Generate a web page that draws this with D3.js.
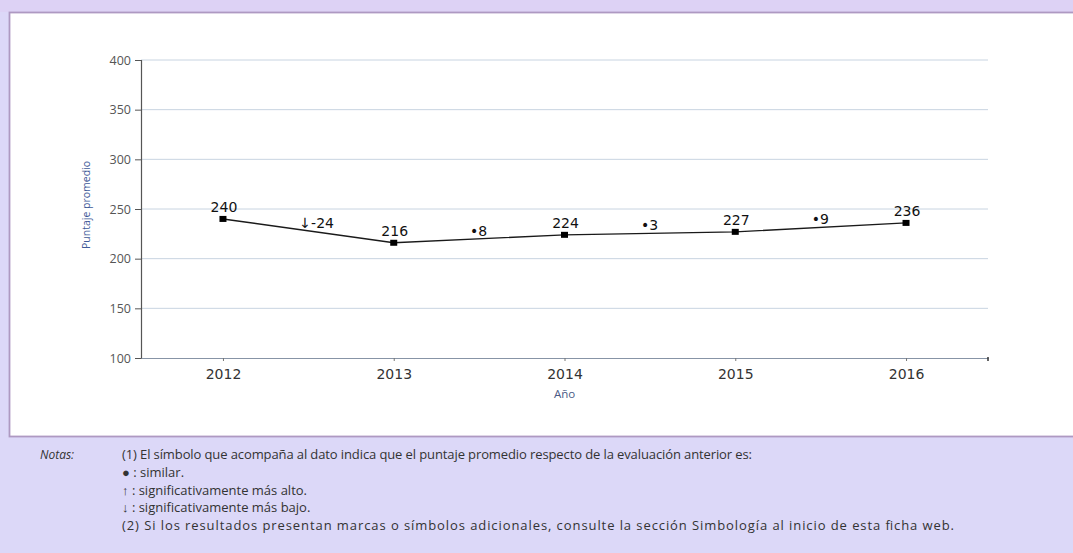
<!DOCTYPE html>
<html>
<head>
<meta charset="utf-8">
<script src="https://cdn.jsdelivr.net/npm/d3@7"></script>
<style>
  html, body { margin: 0; padding: 0; background: #dcd8f8; }
  svg { display: block; }
</style>
</head>
<body>
<svg id="chart" width="1073" height="553"></svg>
<script>
const years = ["2012", "2013", "2014", "2015", "2016"];
const scores = [240, 216, 224, 227, 236];
const changeSymbols = ["↓", "•", "•", "•"];
const changeValues = [-24, 8, 3, 9];
const yTicks = [100, 150, 200, 250, 300, 350, 400];
const yTitle = "Puntaje promedio";
const xTitle = "Año";
const notesLabel = "Notas:";
const notes = [
  "(1) El símbolo que acompaña al dato indica que el puntaje promedio respecto de la evaluación anterior es:",
  "● : similar.",
  "↑ : significativamente más alto.",
  "↓ : significativamente más bajo.",
  "(2) Si los resultados presentan marcas o símbolos adicionales, consulte la sección Simbología al inicio de esta ficha web."
];
// layout only: rendered widths of the long note lines in the reference
const noteWidths = [630, null, null, null, 832];

(function () {
const svg = d3.select("#chart");

// background bands
svg.append("rect").attr("x", 0).attr("y", 0).attr("width", 1073).attr("height", 12).attr("fill", "#ddd2f5");
svg.append("rect").attr("x", 9.5).attr("y", 12.5).attr("width", 1080).attr("height", 424)
  .attr("fill", "#ffffff").attr("stroke", "#ae99c2").attr("stroke-width", 1.8);

const mLeft = 141, mRight = 988, mTop = 60, mBottom = 358;
const x = d3.scalePoint().domain(years).range([mLeft, mRight]).padding(0.48);
const y = d3.scaleLinear().domain([100, 400]).range([mBottom, mTop]);

// gridlines
svg.append("g").selectAll("line").data(yTicks.filter(d => d > 100)).join("line")
  .attr("x1", mLeft).attr("x2", mRight)
  .attr("y1", d => y(d)).attr("y2", d => y(d))
  .attr("stroke", "#c8d4e1").attr("stroke-width", 1);

// y axis
const yAxis = svg.append("g").attr("transform", `translate(${mLeft},0)`)
  .call(d3.axisLeft(y).tickValues(yTicks).tickSize(6).tickPadding(4));
yAxis.select(".domain").attr("stroke", "#555").attr("stroke-width", 1.2);
yAxis.selectAll(".tick line").attr("stroke", "#555");
yAxis.selectAll("text").attr("font-family", "Open Sans").attr("font-size", 12.5)
  .attr("fill", "#555");

// x axis
const xAxis = svg.append("g").attr("transform", `translate(0,${mBottom})`)
  .call(d3.axisBottom(x).tickSize(3).tickSizeOuter(0).tickPadding(8));
xAxis.select(".domain").attr("stroke", "#8794a6").attr("stroke-width", 1.2);
xAxis.selectAll(".tick line").attr("stroke", "#777");
xAxis.selectAll("text").attr("font-family", "DejaVu Sans").attr("font-size", 14)
  .attr("fill", "#333");
xAxis.append("line").attr("x1", mRight).attr("x2", mRight).attr("y1", -1).attr("y2", 3)
  .attr("stroke", "#333").attr("stroke-width", 1.5);

// titles
svg.append("text").attr("transform", `translate(90,205) rotate(-90)`)
  .attr("text-anchor", "middle").attr("font-family", "Open Sans").attr("font-size", 10.5)
  .attr("fill", "#3f5a98").text(yTitle);
svg.append("text").attr("x", (mLeft + mRight) / 2).attr("y", 398)
  .attr("text-anchor", "middle").attr("font-family", "Open Sans").attr("font-size", 11.5)
  .attr("fill", "#4a5a85").text(xTitle);

// line
const pts = years.map((yr, i) => ({ yr, v: scores[i] }));
svg.append("path").datum(pts)
  .attr("d", d3.line().x(d => x(d.yr)).y(d => y(d.v)))
  .attr("fill", "none").attr("stroke", "#1a1a1a").attr("stroke-width", 1.4);

svg.append("g").selectAll("rect").data(pts).join("rect")
  .attr("x", d => x(d.yr) - 3.5).attr("y", d => y(d.v) - 3)
  .attr("width", 7).attr("height", 6).attr("fill", "#000");

svg.append("g").selectAll("text").data(pts).join("text")
  .attr("x", d => x(d.yr) + 1).attr("y", d => y(d.v) - 7)
  .attr("text-anchor", "middle").attr("font-family", "DejaVu Sans").attr("font-size", 14)
  .attr("fill", "#111").text(d => d.v);

// change labels
const changes = changeValues.map((v, i) => ({
  sym: changeSymbols[i], v,
  xm: (x(years[i]) + x(years[i + 1])) / 2,
  ym: (y(scores[i]) + y(scores[i + 1])) / 2
}));
svg.append("g").selectAll("text").data(changes).join("text")
  .attr("x", d => d.xm - 9).attr("y", d => d.ym - 3)
  .attr("text-anchor", "start").attr("font-family", "DejaVu Sans").attr("font-size", 14)
  .attr("fill", "#111")
  .text(d => d.sym + d.v);

// notes
svg.append("text").attr("x", 40).attr("y", 459)
  .attr("font-family", "Open Sans").attr("font-style", "italic").attr("font-size", 12)
  .attr("fill", "#333").text(notesLabel);
const noteText = svg.append("g").selectAll("text").data(notes).join("text")
  .attr("x", 122).attr("y", (d, i) => 459 + i * 17.75)
  .attr("font-family", "Open Sans").attr("font-size", 13)
  .attr("fill", "#333").text(d => d);
noteText.filter((d, i) => noteWidths[i] != null)
  .attr("textLength", (d) => noteWidths[notes.indexOf(d)]).attr("lengthAdjust", "spacing");
})();
</script>
</body>
</html>
